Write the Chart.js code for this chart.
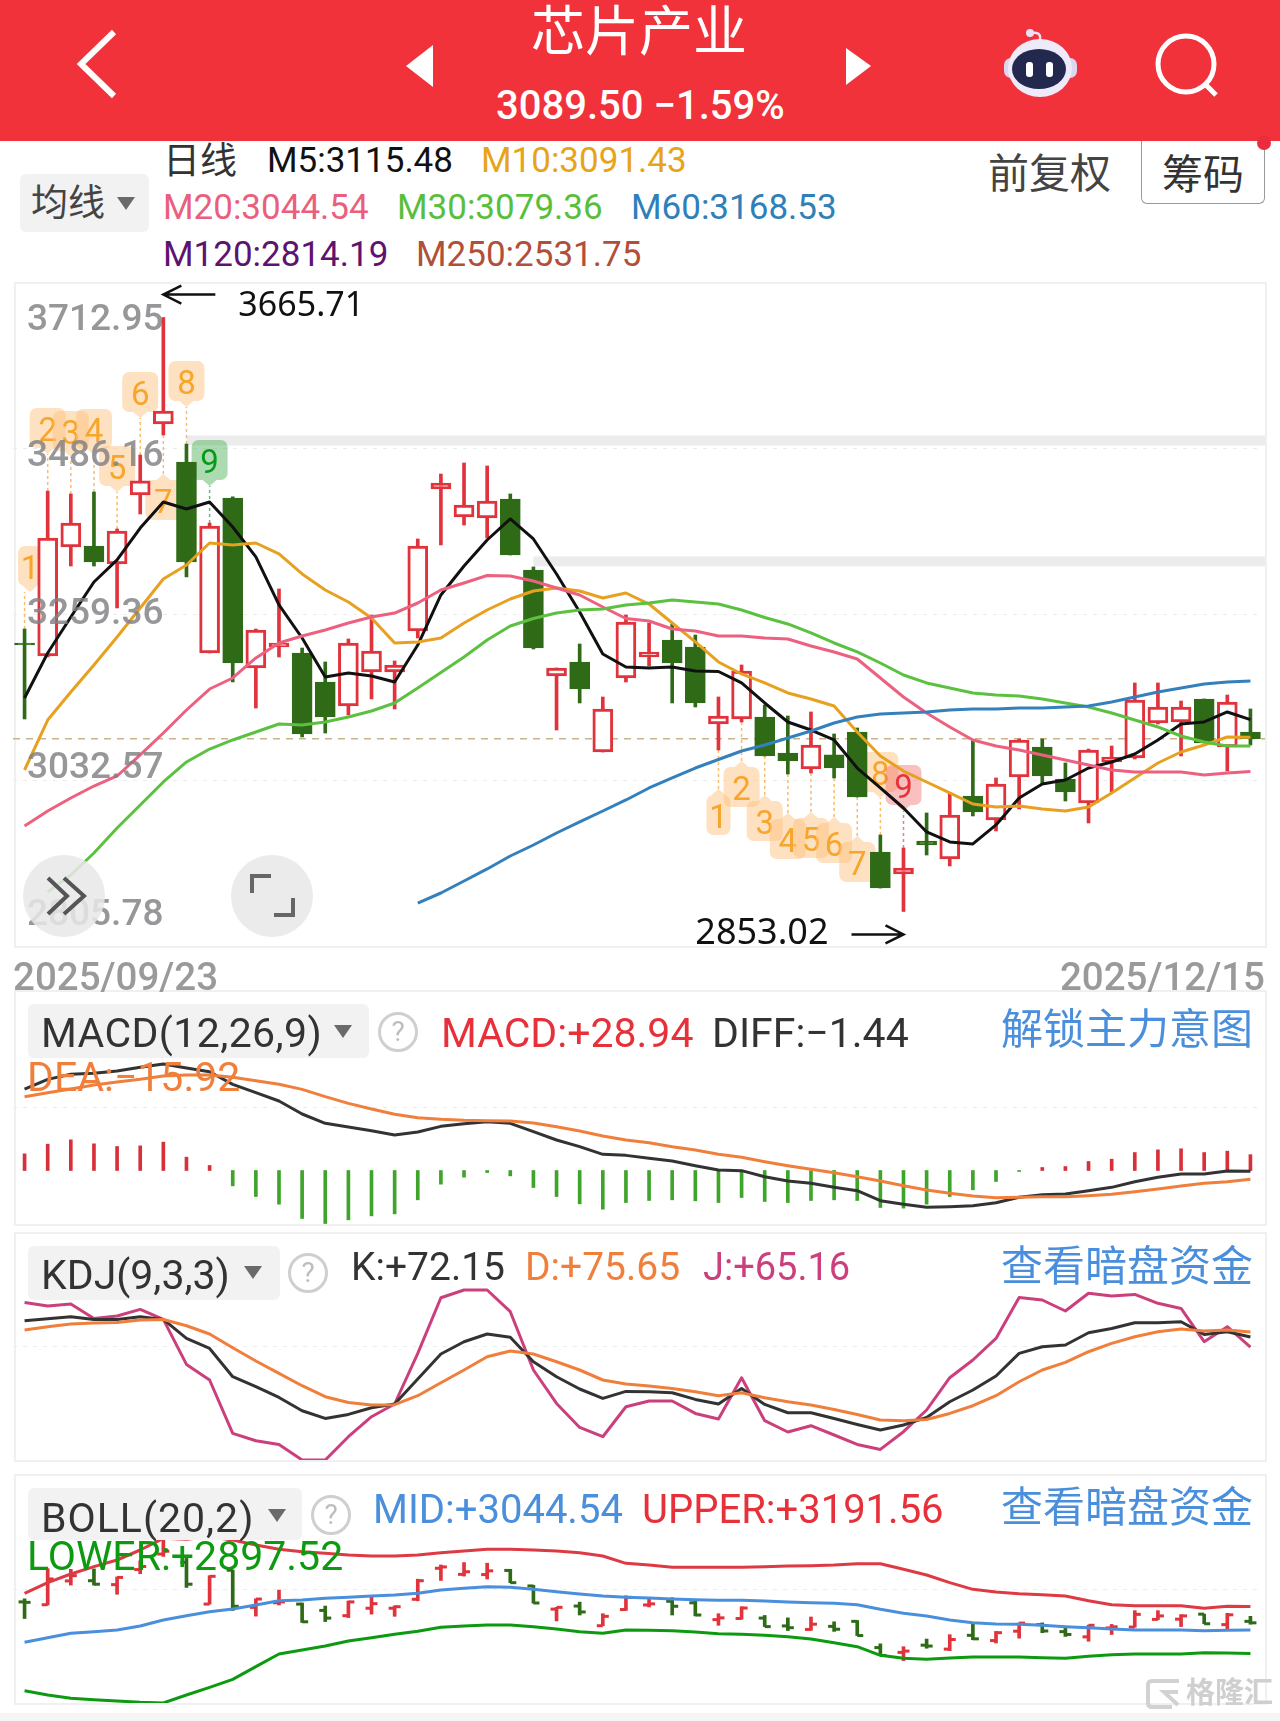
<!DOCTYPE html>
<html lang="zh-CN">
<head>
<meta charset="utf-8">
<title>芯片产业</title>
<script src="https://cdn.jsdelivr.net/npm/chart.js@4/dist/chart.umd.min.js"></script>
<style>
html, body { margin: 0; padding: 0; background: #fff; }
#page { position: relative; width: 1280px; height: 1721px; overflow: hidden; background: #fff; font-family: Roboto, "Noto Sans CJK SC", sans-serif; }
#band { position: absolute; left: 0; top: 0; width: 1280px; height: 141px; background: #f1323a; }
.t { position: absolute; white-space: nowrap; transform: translateY(-50%); line-height: 1; }
.frame { position: absolute; left: 14px; width: 1249px; border: 2px solid #f0f0f0; }
canvas { position: absolute; left: 13px; }
.btn { position: absolute; background: #f2f2f2; border-radius: 6px; }
.dn { position: absolute; width: 0; height: 0; border-left: 9px solid transparent; border-right: 9px solid transparent; border-top: 13px solid #6a6a6a; }
.q { position: absolute; width: 34px; height: 34px; border: 3px solid #cfcfcf; border-radius: 50%; color: #bdbdbd; font-size: 28px; line-height: 34px; text-align: center; }
.link { color: #4a8fdc; font-size: 42px; left: 1001px; }
.circle { position: absolute; width: 82px; height: 82px; border-radius: 50%; background: rgba(232,232,232,.86); }
.ma { font-size: 35px; }
</style>
</head>
<body>
<div id="page">
  <div class="frame" style="top:282px;height:662px"></div>
  <div class="frame" style="top:990px;height:232px"></div>
  <div class="frame" style="top:1232px;height:226px"></div>
  <div class="frame" style="top:1474px;height:227px"></div>
  <div style="position:absolute;left:0;top:1713px;width:1280px;height:8px;background:#f5f5f5"></div>

  <canvas id="main-chart" width="1252" height="663" style="top:283px"></canvas>
  <canvas id="macd-chart" width="1252" height="233" style="top:991px"></canvas>
  <canvas id="kdj-chart" width="1252" height="227" style="top:1233px"></canvas>
  <canvas id="boll-chart" width="1252" height="228" style="top:1475px"></canvas>

  <div id="band"></div>
  <svg style="position:absolute;left:0;top:0" width="1280" height="141">
    <polyline points="114,32 81,64 114,96" fill="none" stroke="#fff" stroke-width="6"/>
    <polygon points="433,45 406,66 433,87" fill="#fff"/>
    <polygon points="846,48 871,66 846,85" fill="#fff"/>
    <path d="M1040 39 C1041 33 1036 32 1031 33" fill="none" stroke="#e8e0f4" stroke-width="2.5"/>
    <circle cx="1030" cy="33" r="4" fill="#e8e0f4"/>
    <rect x="1004" y="58" width="73" height="20" rx="7" fill="#dcd6ee"/>
    <ellipse cx="1040" cy="68" rx="32" ry="29" fill="#eeeafa"/>
    <ellipse cx="1039" cy="69" rx="27" ry="20" fill="#23284e"/>
    <rect x="1026" y="62" width="7" height="15" rx="3" fill="#fff"/>
    <rect x="1046" y="62" width="7" height="15" rx="3" fill="#fff"/>
    <circle cx="1186" cy="64" r="28" fill="none" stroke="#fff" stroke-width="5"/>
    <line x1="1205" y1="84" x2="1216" y2="95" stroke="#fff" stroke-width="5"/>
  </svg>
  <div class="t" style="left:531px;top:28px;font-size:54px;color:#fff;font-family:'Noto Sans CJK SC'">芯片产业</div>
  <div class="t" style="left:496px;top:106px;font-size:40px;color:#fff;font-weight:500">3089.50 −1.59%</div>

  <div class="t" style="left:163px;top:161px;font-size:37px;color:#333">日线</div>
  <div class="t ma" style="left:267px;top:160px;color:#111">M5:3115.48</div>
  <div class="t ma" style="left:481px;top:160px;color:#e8a417">M10:3091.43</div>
  <div class="t ma" style="left:163px;top:207px;color:#ea5f7e">M20:3044.54</div>
  <div class="t ma" style="left:397px;top:207px;color:#5abe3d">M30:3079.36</div>
  <div class="t ma" style="left:631px;top:207px;color:#2f7fb9">M60:3168.53</div>
  <div class="t ma" style="left:163px;top:254px;color:#5c1470">M120:2814.19</div>
  <div class="t ma" style="left:416px;top:254px;color:#b0503a">M250:2531.75</div>

  <div class="btn" style="left:20px;top:174px;width:129px;height:58px"></div>
  <div class="t" style="left:31px;top:203px;font-size:37px;color:#444">均线</div>
  <div class="dn" style="left:117px;top:197px"></div>
  <div class="t" style="left:988px;top:174px;font-size:41px;color:#444">前复权</div>
  <div style="position:absolute;left:1141px;top:141px;width:122px;height:62px;border:1px solid #999;border-top:none;border-radius:0 0 6px 6px"></div>
  <div class="t" style="left:1162px;top:175px;font-size:41px;color:#333">筹码</div>
  <div style="position:absolute;left:1257px;top:136px;width:14px;height:14px;border-radius:50%;background:#ea2c3c"></div>

  <div class="circle" style="left:23px;top:855px"></div>
  <div class="circle" style="left:231px;top:855px"></div>
  <svg style="position:absolute;left:0;top:850px" width="320" height="90">
    <polyline points="48,28 67,46 48,64" fill="none" stroke="#555" stroke-width="4"/>
    <polyline points="64,28 84,46 64,64" fill="none" stroke="#555" stroke-width="4"/>
    <polyline points="252,43 252,26 271,26" fill="none" stroke="#666" stroke-width="4"/>
    <polyline points="274,65 293,65 293,48" fill="none" stroke="#666" stroke-width="4"/>
  </svg>

  <div class="t" id="date-start" style="left:13px;top:977px;font-size:38.5px;color:#9a9a9a;font-weight:500"></div>
  <div class="t" id="date-end" style="right:15px;top:977px;font-size:38.5px;color:#9a9a9a;font-weight:500"></div>

  <div class="btn" style="left:28px;top:1004px;width:341px;height:54px"></div>
  <div class="t" style="left:41px;top:1033px;font-size:41px;letter-spacing:.4px;color:#333">MACD(12,26,9)</div>
  <div class="dn" style="left:334px;top:1025px"></div>
  <div class="q" style="left:378px;top:1012px">?</div>
  <div class="t" style="left:441px;top:1033px;font-size:41px;color:#e6303a">MACD:+28.94</div>
  <div class="t" style="left:712px;top:1033px;font-size:41px;color:#333">DIFF:−1.44</div>
  <div class="t link" style="top:1030px">解锁主力意图</div>
  <div class="t" style="left:27px;top:1077px;font-size:41px;color:#f07f3c">DEA:−15.92</div>

  <div class="btn" style="left:28px;top:1246px;width:252px;height:54px"></div>
  <div class="t" style="left:41px;top:1275px;font-size:41px;color:#333">KDJ(9,3,3)</div>
  <div class="dn" style="left:244px;top:1266px"></div>
  <div class="q" style="left:288px;top:1253px">?</div>
  <div class="t" style="left:351px;top:1267px;font-size:39px;color:#333">K:+72.15</div>
  <div class="t" style="left:525px;top:1267px;font-size:39px;color:#f07f3c">D:+75.65</div>
  <div class="t" style="left:703px;top:1267px;font-size:38px;color:#cc3f7d">J:+65.16</div>
  <div class="t link" style="top:1267px">查看暗盘资金</div>

  <div class="btn" style="left:28px;top:1488px;width:274px;height:52px"></div>
  <div class="t" style="left:41px;top:1518px;font-size:41px;letter-spacing:1px;color:#333">BOLL(20,2)</div>
  <div class="dn" style="left:268px;top:1509px"></div>
  <div class="q" style="left:311px;top:1495px">?</div>
  <div class="t" style="left:373px;top:1510px;font-size:40px;color:#4a8fdc">MID:+3044.54</div>
  <div class="t" style="left:642px;top:1510px;font-size:40px;color:#e6303a">UPPER:+3191.56</div>
  <div class="t link" style="top:1508px">查看暗盘资金</div>
  <div class="t" style="left:27px;top:1556px;font-size:41px;color:#0d9a10">LOWER:+2897.52</div>

  <svg style="position:absolute;left:1146px;top:1675px" width="36" height="36">
    <path d="M33 6 H6 Q2 6 2 10 V28 Q2 32 6 32 H26 M32 30 L18 17 H32" fill="none" stroke="#d2d2d2" stroke-width="4"/>
  </svg>
  <div class="t" style="left:1186px;top:1693px;font-size:29px;color:#cfcfcf;font-weight:700;text-shadow:0 0 2px #fff">格隆汇</div>
</div>

<script>
// K线数据
const opens = [3220.4,3202.6,3351.7,3353.1,3328.5,3422.9,3520,3468,3206.7,3418.8,3186.2,3214.9,3206.7,3167,3134.2,3180.7,3180.7,3236.8,3431.1,3392.8,3391.4,3417.4,3320.3,3175.2,3194.4,3071.2,3172.5,3201.2,3224.5,3214.9,3109.5,3116.4,3119.1,3069.9,3048,3067.2,3098.6,2934.4,2904.3,2949.5,2924.8,3011,2978.2,3037,3078.1,3034.3,3001.5,3057.6,3063,3110.9,3112.3,3143.8,3078.1,3098.6];
const highs = [3239.5,3428.4,3424.3,3427,3376.4,3477.6,3665.71,3492.7,3384.6,3420.2,3239.5,3294.3,3213.5,3194.4,3225.9,3258.7,3195.8,3362.7,3451.6,3466.7,3462.6,3424.3,3324.4,3186.2,3219,3146.5,3258.7,3247.7,3246.4,3231.3,3146.5,3190.3,3135.5,3120.5,3126,3095.9,3104.1,2957.7,2939.9,2987.8,3015.2,3087.7,3035.7,3089,3089,3056.2,3075.3,3079.4,3165.7,3165.7,3141,3143.8,3149.2,3130.1];
const lows = [3116.4,3201.2,3325.7,3325.7,3268.3,3396.9,3505,3310.7,3206.7,3167,3131.4,3201.2,3091.8,3097.2,3121.9,3143.8,3130.1,3227.2,3354.5,3381.8,3364,3340.8,3212.2,3101.3,3138.3,3071.2,3167,3188.9,3138.3,3132.8,3074,3112.3,3065.8,3041.1,3042.5,3035.7,3009.7,2885.1,2853.02,2930.3,2915.3,2983.7,2963.2,2993.3,3027.5,3004.2,2974.1,3016.5,3061.7,3109.5,3065.8,3083.6,3045.2,3080.8];
const closes = [3217.6,3364,3384.6,3331.2,3373.6,3442.1,3537.8,3331.2,3380.5,3193,3238.2,3220.4,3095.9,3119.1,3220.4,3209.4,3190.3,3353.1,3439.3,3409.2,3414.7,3340.8,3213.5,3186.2,3157.4,3130.1,3249.1,3208.1,3193,3138.3,3120.5,3182.1,3065.8,3058.9,3080.8,3049.3,3009.7,2885.1,2912.5,2944,2985,2989.2,3027.5,3087.7,3038.4,3016.5,3074,3064.4,3142.4,3132.8,3132.8,3083.6,3139.7,3089.5];

// 均线
const m5 = [3145.1,3206.7,3256,3303.8,3334,3377.7,3413.3,3403.7,3413.3,3379.1,3338.1,3272.4,3227.2,3173.9,3179.3,3175.2,3167,3217.6,3286.1,3325.7,3361.3,3390.1,3362.7,3314.8,3262.8,3205.3,3187.5,3186.2,3187.5,3182.1,3181.4,3165.7,3138.3,3112.3,3101.3,3087.7,3049.3,3022,2994.6,2961.8,2948.1,2945.4,2971.4,3008.3,3027.5,3032.9,3049.3,3057.6,3068.5,3087.7,3109.5,3112.3,3126,3115.48];
const m10 = [3046.6,3115,3153.3,3190.3,3228.6,3268.3,3308,3327.1,3357.2,3354.5,3357.2,3342.2,3314.8,3292.9,3276.5,3254.6,3220.4,3221.8,3227.2,3247.7,3265.5,3280.6,3291.5,3295.6,3291.5,3282,3288.8,3273.7,3247.7,3221.8,3194.4,3178,3165.7,3152,3143.8,3134.2,3098.6,3065.8,3045.2,3030.2,3015.2,3000.1,2996,2997.3,2993.2,2990.5,2996,3015.2,3035.7,3056.2,3071.2,3080.8,3091.8,3091.43];
const m20 = [2970,2990.5,3008.3,3024.7,3038.4,3067.2,3097.2,3128.7,3157.4,3172.5,3199.9,3220.4,3230,3238.2,3247.7,3256,3261.4,3275.1,3292.9,3302.5,3312.7,3312.1,3305.2,3295.6,3286.1,3269.6,3253.9,3250.5,3239.5,3236.8,3230,3230,3227.2,3225.9,3216.3,3208.1,3198.5,3172.5,3146.5,3124.6,3105.5,3087.7,3079.4,3074,3067.2,3060.3,3053.5,3046.6,3043.9,3043.9,3043.9,3039.8,3042.5,3044.54];
const m30 = [null,2879.7,2902.9,2933,2967.2,2998.7,3030.2,3057.6,3075.3,3087.7,3098.6,3109.5,3108.2,3112.3,3119.1,3127.3,3138.3,3158.8,3180,3201.2,3224.5,3243.6,3253.9,3261.4,3265.5,3266.9,3272.4,3275.1,3279.2,3276.5,3273.7,3265.5,3255.3,3246.4,3234.1,3220.4,3208.1,3193,3176.6,3165.7,3158.8,3152,3149.2,3147.9,3143.8,3138.3,3132.8,3124.6,3115,3105.5,3093.1,3084.9,3079.4,3079.36];
const m60 = [null,null,null,null,null,null,null,null,null,null,null,null,null,null,null,null,null,2864.6,2878.3,2894.7,2911.2,2928.9,2944,2960.4,2975.5,2990.5,3005.6,3022,3035.7,3049.3,3061,3072.6,3080.8,3090.4,3100,3110.9,3119.1,3123.2,3124.6,3126,3128.7,3130.1,3130.1,3131.4,3131.4,3132.8,3134.2,3139.7,3146.5,3153.3,3158.8,3164.3,3167,3168.53];

// MACD
const diff = [149.1,166.8,176,177.8,182.1,188.8,194.9,187.6,180.8,157.7,142.4,127.2,103.4,86.3,79.6,72.9,64.9,70.4,80.8,85.7,89.3,86.3,71,55.8,43.6,29.6,27.7,22.3,17.4,8.8,0.9,-0.3,-11.3,-19.2,-23.5,-30.8,-36.9,-55.2,-61.9,-67.4,-66.2,-64.4,-58.9,-49.1,-44.2,-43,-36.9,-30.8,-20.5,-12.5,-6.4,-6.4,-0.9,-1.44];
const dea = [135.1,142.4,149.1,156.4,161.9,166.8,172.9,174.8,174.8,170.5,164.4,157.7,148.5,135.1,122.9,112.5,102.8,96.7,93.6,91.8,91.2,90.6,86.9,80.2,72.3,63.1,55.8,50.9,43.6,37.5,29.6,24.1,16.2,8.8,2.1,-4,-11.3,-19.2,-27.8,-35.7,-41.8,-46.7,-49.7,-49.1,-47.9,-47.9,-46.1,-43.6,-38.8,-33.9,-28.4,-23.5,-20.5,-15.92];
const macd = [30.5,48.2,56.1,48.8,43.9,45.1,51.9,24.4,9.2,-28.1,-47.6,-61.6,-87.8,-97,-90.3,-83,-79.3,-53.7,-25,-12.2,-3.7,-9.8,-31.1,-47.6,-61,-70.8,-58.6,-54.9,-53.7,-55.5,-58.6,-49.4,-56.7,-58.6,-54.9,-53.7,-54.9,-67.7,-68.9,-61.6,-47.6,-35.4,-20.1,-1.8,5.5,7.3,16.5,20.7,32.9,37.8,39.7,32.9,35.4,28.94];

// KDJ
const kLine = [83.6,85,86.4,84.5,84.5,86.4,84.5,71.2,64.2,44.4,37.4,29.9,20.6,15.2,18,22.7,25.3,42.8,60.3,68.9,74.3,72,54.9,44.4,35.8,29.2,34.1,33.9,33.2,28.5,25.3,36.2,25,19.2,19.2,15.2,11,7.1,10.6,15.9,26.9,35.1,44.9,60.7,65.4,66.6,75.2,78.2,82.2,82.2,82.9,74,75.9,72.15];
const dLine = [77.1,79.4,81.3,82,82.4,84.1,84.5,80.1,74.3,64.7,55.4,46.7,38.1,30.4,26.4,24.6,24.8,31.1,40.2,49.1,58.4,62.4,60.3,54.9,49.1,42.1,39.3,37.9,36.2,33.9,31.1,33.2,29.7,26.9,24.6,21.5,18,14.1,13.6,14.5,18.7,24.1,31.1,40.9,49.1,54.4,61.9,67.7,72.4,75.9,77.8,76.4,77.1,75.65];
const jLine = [96.4,93.9,95.3,85.2,86.9,91.5,84.5,53,42.1,4.7,-0.4,-3,-13.9,-13.9,2.4,16.4,25.3,60.7,99.7,105.1,105.1,89.9,49.1,25.7,8.9,2.4,23.4,27.4,27.4,18.7,14.8,43.7,13.6,5.7,10.1,3.6,-3,-6.5,5.9,21.1,43.7,56.1,71.2,99.9,98.1,90.4,102.8,100.9,102,95.8,92.2,68.9,79.4,65.16];

// BOLL
const upper = [3274,3340.8,3395.1,3441,3482.7,3545.3,3618.3,3612.1,3628.8,3607.9,3576.6,3549.5,3534.9,3524.4,3514,3507.7,3507.7,3514,3528.6,3539,3549.5,3549.5,3545.3,3539,3528.6,3507.7,3461.8,3451.4,3436.8,3436.8,3436.8,3436.8,3441,3445.1,3447.2,3451.4,3459.7,3459.7,3424.3,3388.8,3340.8,3299.1,3282.4,3271.9,3265.7,3257.3,3228.1,3203.1,3196.8,3196.8,3196.8,3180.1,3192.6,3191.56];
const mid = [2967.3,2996.5,3023.6,3034.1,3044.5,3069.5,3107.1,3134.2,3159.3,3175.9,3201,3228.1,3232.3,3242.7,3249,3257.3,3263.6,3274,3294.9,3305.3,3315.8,3311.6,3299.1,3284.5,3269.8,3257.3,3249,3244.8,3238.5,3234.4,3230.2,3230.2,3226,3219.8,3215.6,3211.4,3203.1,3173.9,3148.8,3132.1,3107.1,3090.4,3082.1,3080,3073.7,3065.4,3059.1,3050.7,3044.5,3044.5,3044.5,3040.3,3042.4,3044.54];
const lower = [2664.7,2637.6,2616.7,2608.4,2600.1,2591.7,2588,2637.6,2685.6,2735.7,2814.9,2894.2,2919.3,2944.3,2975.6,2996.5,3017.4,3036.1,3061.2,3069.5,3075.8,3075.8,3065.4,3050.7,3034.1,3023.6,3044.5,3042.4,3040.3,3032,3021.5,3017.4,3011.1,3002.7,2988.1,2965.2,2940.2,2885.9,2867.1,2860.9,2869.2,2875.5,2875.5,2875.5,2871.3,2867.1,2879.6,2890.1,2894.2,2894.2,2894.2,2902.6,2900.5,2897.52];

// 坐标轴刻度
const priceTicks = [3712.95, 3486.16, 3259.36, 3032.57, 2805.78];
const macdTicks = [328.5, 115.3, -97.9];
const kdjTicks = [145, 65.55, -13.9];
const bollTicks = [4014.8, 3301.15, 2587.5];
const dateLabels = ['2025/09/23', '2025/12/15'];

// 九转序列标记
const tagCandles = [0,1,2,3,4,5,6,7,8,30,31,32,33,34,35,36,37,38];
const tagDigits = ['1','2','3','4','5','6','7','8','9','1','2','3','4','5','6','7','8','9'];
const tagSides = ['up','up','up','up','up','up','down','up','up','down','down','down','down','down','down','down','up','up'];
const tagTones = ['o','o','o','o','o','o','o','o','g','o','o','o','o','o','o','o','o','r'];

// 压力位灰条，最新价，最高最低点
const resistLevels = [3497.5, 3332];
const resistStarts = [7, 22];
const lastPrice = 3089.5;
const highIndex = 6;
const lowIndex = 38;

const categories = closes.map((c, i) => i);
const RED = '#e0333c';
const GREEN = '#2f6b17';
const candleColors = closes.map((c, i) => c >= opens[i] ? RED : GREEN);
const wickData = highs.map((h, i) => [lows[i], h]);

document.getElementById('date-start').textContent = dateLabels[0];
document.getElementById('date-end').textContent = dateLabels[1];

function lineSet(data, color, width) {
    return { type: 'line', data: data, borderColor: color, borderWidth: width || 3, pointRadius: 0, tension: 0, order: 1, borderJoinStyle: 'round' };
}

function wickSet() {
    return { type: 'bar', data: wickData, backgroundColor: candleColors, barThickness: 3, grouped: false, order: 3 };
}

function baseOptions(tickValues, rightPad) {
    return {
        responsive: false,
        animation: false,
        layout: { padding: { left: 0, right: rightPad, top: 0, bottom: 0 } },
        plugins: { legend: { display: false }, tooltip: { enabled: false } },
        scales: {
            x: { type: 'category', display: false, offset: true },
            y: {
                min: tickValues[tickValues.length - 1],
                max: tickValues[0],
                afterBuildTicks: function(scale) {
                    scale.ticks = tickValues.map(v => ({ value: v }));
                },
                afterFit: function(scale) { scale.width = 0; },
                ticks: { display: false },
                border: { display: false, dash: [4, 6] },
                grid: {
                    drawTicks: false,
                    color: function(ctx) {
                        return (ctx.index === 0 || ctx.index === tickValues.length - 1) ? 'transparent' : '#ececec';
                    }
                }
            }
        }
    };
}

// 画一个带尖角的标记
function drawTag(ctx, x, tipY, side, wide, tone, digit) {
    const fills = { o: 'rgba(253,196,130,.5)', g: 'rgba(70,175,85,.45)', r: 'rgba(240,90,90,.38)' };
    const inks = { o: '#f7a52b', g: '#0a9a1a', r: '#e8323a' };
    const w = wide ? 36 : 24;
    const h = 40;
    const dir = side === 'up' ? -1 : 1;
    const top = side === 'up' ? tipY - 6 - h : tipY + 6;
    ctx.fillStyle = fills[tone];
    ctx.beginPath();
    ctx.roundRect(x - w / 2, top, w, h, 7);
    ctx.fill();
    ctx.beginPath();
    ctx.moveTo(x - 7, tipY + dir * 6);
    ctx.lineTo(x, tipY);
    ctx.lineTo(x + 7, tipY + dir * 6);
    ctx.fill();
    ctx.fillStyle = inks[tone];
    ctx.font = '33px Roboto';
    ctx.textAlign = 'center';
    ctx.textBaseline = 'middle';
    ctx.fillText(digit, x, top + h / 2 + 5);
}

function drawArrow(ctx, fromX, toX, y) {
    const dir = toX > fromX ? -1 : 1;
    ctx.strokeStyle = '#111';
    ctx.lineWidth = 2.5;
    ctx.beginPath();
    ctx.moveTo(fromX, y);
    ctx.lineTo(toX, y);
    ctx.moveTo(toX + dir * 18, y - 9);
    ctx.lineTo(toX, y);
    ctx.lineTo(toX + dir * 18, y + 9);
    ctx.stroke();
}

const mainMarks = {
    id: 'mainMarks',
    beforeDatasetsDraw: function(chart) {
        const ctx = chart.ctx, xs = chart.scales.x, ys = chart.scales.y, area = chart.chartArea;
        ctx.save();
        // 灰色压力位
        ctx.fillStyle = '#ececec';
        resistLevels.forEach(function(level, i) {
            const startX = xs.getPixelForValue(resistStarts[i]);
            ctx.fillRect(startX, ys.getPixelForValue(level) - 5, area.right + 3 - startX, 10);
        });
        // 最新价虚线
        ctx.strokeStyle = '#c9b48a';
        ctx.lineWidth = 1.5;
        ctx.setLineDash([7, 6]);
        ctx.beginPath();
        ctx.moveTo(area.left, ys.getPixelForValue(lastPrice));
        ctx.lineTo(area.right + 3, ys.getPixelForValue(lastPrice));
        ctx.stroke();
        // 九转标记
        tagCandles.forEach(function(idx, i) {
            const x = xs.getPixelForValue(idx);
            const side = tagSides[i];
            const anchor = ys.getPixelForValue(side === 'up' ? highs[idx] : lows[idx]);
            const tipY = side === 'up' ? anchor - 37 : anchor + 39;
            ctx.setLineDash([3, 3]);
            ctx.lineWidth = 1.5;
            ctx.strokeStyle = tagTones[i] === 'o' ? 'rgba(245,165,60,.75)' : (tagTones[i] === 'g' ? 'rgba(40,150,70,.7)' : 'rgba(230,70,80,.7)');
            ctx.beginPath();
            ctx.moveTo(x, anchor);
            ctx.lineTo(x, tipY);
            ctx.stroke();
            ctx.setLineDash([]);
            drawTag(ctx, Math.max(x, area.left + 17), tipY, side, tagDigits[i] !== '1', tagTones[i], tagDigits[i]);
        });
        ctx.restore();
    },
    afterDatasetsDraw: function(chart) {
        const ctx = chart.ctx, xs = chart.scales.x, ys = chart.scales.y, area = chart.chartArea;
        const labelOffsets = [38, 8, 0, -12, -30];
        ctx.save();
        // 左侧价格刻度，盖在K线上面
        ctx.font = '500 37px Roboto';
        ctx.textAlign = 'left';
        ctx.textBaseline = 'middle';
        ctx.fillStyle = 'rgba(128,128,132,.82)';
        priceTicks.forEach(function(v, i) {
            ctx.fillText(v.toFixed(2), area.left + 14, ys.getPixelForValue(v) + labelOffsets[i]);
        });
        // 最高最低标注
        const hx = xs.getPixelForValue(highIndex), hy = ys.getPixelForValue(highs[highIndex]) - 23;
        const lx = xs.getPixelForValue(lowIndex), ly = ys.getPixelForValue(lows[lowIndex]) + 23;
        drawArrow(ctx, hx + 52, hx, hy);
        drawArrow(ctx, lx - 52, lx, ly);
        ctx.fillStyle = '#111';
        ctx.font = '34px "Noto Sans"';
        ctx.fillText(highs[highIndex].toFixed(2), hx + 75, hy + 12);
        ctx.textAlign = 'right';
        ctx.font = '36px "Noto Sans"';
        ctx.fillText(lows[lowIndex].toFixed(2), lx - 75, ly - 1);
        ctx.restore();
    }
};

const ohlcTicks = {
    id: 'ohlcTicks',
    beforeDatasetsDraw: function(chart) {
        const ctx = chart.ctx, xs = chart.scales.x, ys = chart.scales.y;
        ctx.save();
        closes.forEach(function(c, i) {
            const x = xs.getPixelForValue(i);
            ctx.fillStyle = candleColors[i];
            ctx.fillRect(x - 6, ys.getPixelForValue(opens[i]) - 1.5, 6, 3);
            ctx.fillRect(x, ys.getPixelForValue(c) - 1.5, 6, 3);
        });
        ctx.restore();
    }
};

// 主图
new Chart(document.getElementById('main-chart').getContext('2d'), {
    data: {
        labels: categories,
        datasets: [
            wickSet(),
            {
                type: 'bar',
                data: closes.map((c, i) => [Math.min(opens[i], c), Math.max(opens[i], c)]),
                backgroundColor: closes.map((c, i) => c >= opens[i] ? '#fff' : GREEN),
                borderColor: candleColors,
                borderWidth: 3,
                borderSkipped: false,
                barThickness: 20,
                grouped: false,
                order: 2
            },
            lineSet(m60, '#3480bc'),
            lineSet(m30, '#5cc040'),
            lineSet(m20, '#ec6080'),
            lineSet(m10, '#e8a020'),
            lineSet(m5, '#111111')
        ]
    },
    options: baseOptions(priceTicks, 3),
    plugins: [mainMarks]
});

// MACD
new Chart(document.getElementById('macd-chart').getContext('2d'), {
    data: {
        labels: categories,
        datasets: [
            { type: 'bar', data: macd, backgroundColor: macd.map(v => v >= 0 ? '#d8303a' : '#3ea52a'), barThickness: 3, grouped: false, order: 3 },
            lineSet(dea, '#f07f3c'),
            lineSet(diff, '#333333')
        ]
    },
    options: baseOptions(macdTicks, 3)
});

// KDJ
new Chart(document.getElementById('kdj-chart').getContext('2d'), {
    data: {
        labels: categories,
        datasets: [
            lineSet(dLine, '#f07f3c'),
            lineSet(kLine, '#333333'),
            lineSet(jLine, '#cc3f7d')
        ]
    },
    options: baseOptions(kdjTicks, 3)
});

// BOLL
new Chart(document.getElementById('boll-chart').getContext('2d'), {
    data: {
        labels: categories,
        datasets: [
            wickSet(),
            lineSet(lower, '#0d9a10'),
            lineSet(mid, '#4a8fdc'),
            lineSet(upper, '#de3a44')
        ]
    },
    options: baseOptions(bollTicks, 3),
    plugins: [ohlcTicks]
});
</script>
</body>
</html>
